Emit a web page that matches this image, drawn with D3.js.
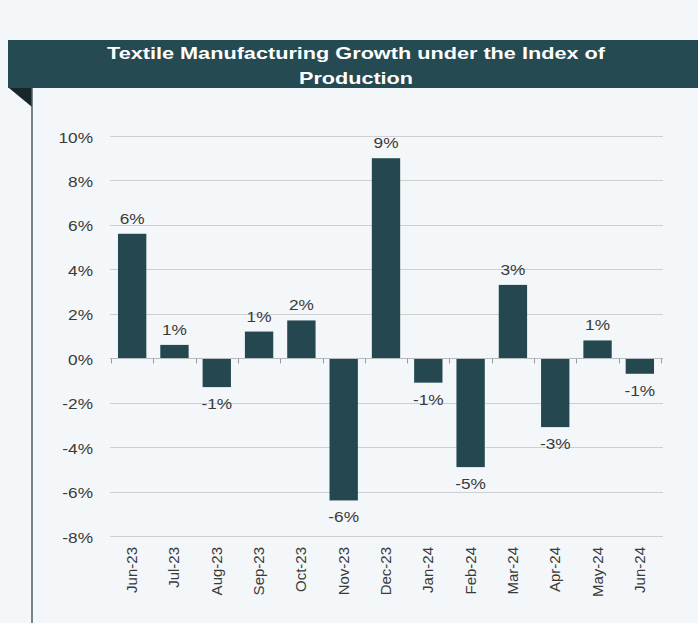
<!DOCTYPE html>
<html><head><meta charset="utf-8">
<script src="https://cdn.jsdelivr.net/npm/d3@7"></script>
<style>
html,body{margin:0;padding:0;background:#f4f7f9;}
svg{display:block;font-family:"Liberation Sans",Arial,sans-serif;}
</style></head>
<body>
<svg id="chart" width="698" height="623"></svg>
<script>
const titleLines = ["Textile Manufacturing Growth under the Index of", "Production"];
const categories = ["Jun-23","Jul-23","Aug-23","Sep-23","Oct-23","Nov-23","Dec-23","Jan-24","Feb-24","Mar-24","Apr-24","May-24","Jun-24"];
const growth = [5.6, 0.6, -1.3, 1.2, 1.7, -6.4, 9.0, -1.1, -4.9, 3.3, -3.1, 0.8, -0.7];
const yTicks = [10, 8, 6, 4, 2, 0, -2, -4, -6, -8];

const svg = d3.select("#chart");
const W = 698, H = 623;
const barColor = "#254850";
const textColor = "#3a3a3a";
const SX = 1.15;

svg.append("rect").attr("x",0).attr("y",0).attr("width",W).attr("height",H).attr("fill","#f4f7f9");
// header
svg.append("rect").attr("x",8).attr("y",40).attr("width",W-8).attr("height",48).attr("fill","#264a52");
svg.append("path").attr("d","M9,88L32,88L32,107Z").attr("fill","#17262b");
svg.append("line").attr("x1",32).attr("x2",32).attr("y1",88).attr("y2",H).attr("stroke","#4c5e63").attr("stroke-width",1.5);
const titleLens = [498, 114];
svg.selectAll("text.title").data(titleLines).enter().append("text")
  .attr("class","title")
  .attr("x",356).attr("y",(d,i)=>59+i*25)
  .attr("text-anchor","middle").attr("fill","#ffffff")
  .attr("font-weight","bold").attr("font-size","17px")
  .attr("textLength",(d,i)=>titleLens[i]).attr("lengthAdjust","spacingAndGlyphs")
  .text(d=>d);

const x = d3.scaleBand().domain(categories).range([111,661]).paddingInner(0.33).paddingOuter(0.165);
const y = d3.scaleLinear().domain([-8,10]).range([536,136]);

// gridlines
svg.append("g").selectAll("line").data(yTicks.filter(t=>t!==0)).enter().append("line")
  .attr("x1",110).attr("x2",663).attr("y1",d=>Math.round(y(d))+0.5).attr("y2",d=>Math.round(y(d))+0.5)
  .attr("stroke","#cdcfd1").attr("stroke-width",1);

// y axis labels
const pct = d => (d < 0 ? "-" : "") + Math.abs(d) + "%";
const yAxis = d3.axisLeft(y).tickValues(yTicks).tickSize(0).tickPadding(0).tickFormat(pct);
const gy = svg.append("g").attr("transform","translate(93,0)").call(yAxis);
gy.select(".domain").remove();
gy.selectAll("text").attr("font-size","15px").attr("fill",textColor)
  .attr("font-family","Liberation Sans, Arial, sans-serif")
  .attr("dy","0.4em").attr("transform",`scale(${SX},1)`);

// bars
svg.append("g").selectAll("rect").data(growth).enter().append("rect")
  .attr("x",(d,i)=>x(categories[i]))
  .attr("width",x.bandwidth())
  .attr("y",d=>y(Math.max(0,d)))
  .attr("height",d=>Math.abs(y(d)-y(0)))
  .attr("fill",barColor);

// zero axis with ticks at category boundaries
const step = x.step();
const half = (step - x.bandwidth())/2;
const bounds = categories.map(c=>x(c) - half).concat([x(categories[categories.length-1]) + x.bandwidth() + half]);
const zy = Math.round(y(0))+0.5;
svg.append("line").attr("x1",110).attr("x2",663).attr("y1",zy).attr("y2",zy).attr("stroke","#b8bbbd");
svg.append("g").selectAll("line").data(bounds).enter().append("line")
  .attr("x1",d=>Math.round(d)+0.5).attr("x2",d=>Math.round(d)+0.5)
  .attr("y1",zy).attr("y2",zy+5).attr("stroke","#9a9ea0");

// value labels
const roundPct = d => { const r = Math.round(d); return (r < 0 ? "-" : "") + Math.abs(r) + "%"; };
svg.append("g").selectAll("text").data(growth).enter().append("text")
  .attr("transform",(d,i)=>`translate(${x(categories[i])+x.bandwidth()/2},${d>=0 ? y(d)-10 : y(d)+22}) scale(${SX},1)`)
  .attr("text-anchor","middle").attr("font-size","15px").attr("fill",textColor)
  .text(d=>roundPct(d));

// x labels rotated
svg.append("g").selectAll("text").data(categories).enter().append("text")
  .attr("transform",(d)=>`translate(${x(d)+x.bandwidth()/2+5},547) rotate(-90)`)
  .attr("text-anchor","end").attr("font-size","15px").attr("fill",textColor)
  .text(d=>d);
</script>
</body></html>
